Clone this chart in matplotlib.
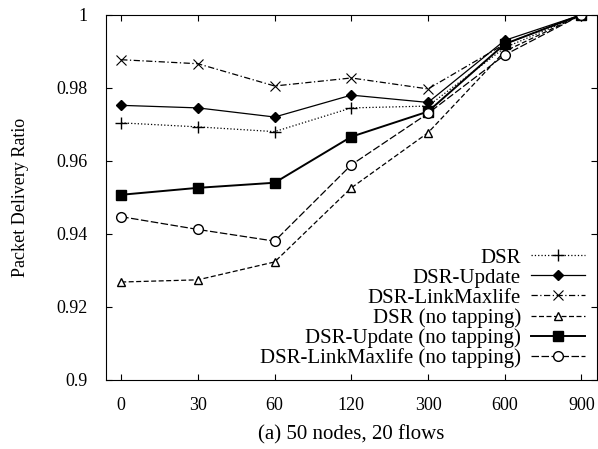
import matplotlib
matplotlib.use('Agg')
import matplotlib.pyplot as plt

plt.rcParams['font.family'] = ['Liberation Serif', 'DejaVu Serif']

# pause times (categorical x axis)
pause = ['0', '30', '60', '120', '300', '600', '900']

dsr = [0.9704, 0.9693, 0.9680, 0.9745, 0.9750, 0.9910, 1.0]
dsr_update = [0.9752, 0.9745, 0.9720, 0.9780, 0.9760, 0.9930, 1.0]
dsr_linkmax = [0.9877, 0.9866, 0.9805, 0.9827, 0.9797, 0.9920, 1.0]
dsr_notap = [0.9268, 0.9274, 0.9323, 0.9526, 0.9677, 0.9900, 1.0]
dsr_update_notap = [0.9507, 0.9526, 0.9540, 0.9666, 0.9735, 0.9920, 1.0]
dsr_linkmax_notap = [0.9447, 0.9412, 0.9380, 0.9589, 0.9730, 0.9890, 1.0]

series = [
    ('DSR', dsr, dict(ls=':', marker='+', ms=9, mew=1.0)),
    ('DSR-Update', dsr_update, dict(ls='-', marker='D', ms=5.5)),
    ('DSR-LinkMaxlife', dsr_linkmax, dict(ls=(0, (5, 2, 1, 2)), marker='x', ms=7, mew=0.8)),
    ('DSR (no tapping)', dsr_notap, dict(ls=(0, (4, 2)), marker='^', ms=6, mfc='white')),
    ('DSR-Update (no tapping)', dsr_update_notap, dict(ls='-', marker='s', ms=7, lw=1.4)),
    ('DSR-LinkMaxlife (no tapping)', dsr_linkmax_notap, dict(ls=(0, (6, 2)), marker='o', ms=7, mfc='white')),
]

fig = plt.figure(figsize=(5.98, 4.49), dpi=100)
ax = fig.add_axes([0.177, 0.154, 0.821, 0.813])

x = list(range(len(pause)))
for label, vals, style in series:
    kw = dict(color='black', lw=0.9)
    kw.update(style)
    ax.plot(x, vals, label=label, **kw)

ax.set_xlim(-0.2, 6.2)
ax.set_ylim(0.9, 1.0)
ax.set_xticks(x)
ax.set_xticklabels(pause)
ax.set_yticks([0.9, 0.92, 0.94, 0.96, 0.98, 1.0])
ax.set_yticklabels(['0.9', '0.92', '0.94', '0.96', '0.98', '1'])
ax.tick_params(direction='in', top=True, right=True, labelsize=13, length=4)
ax.tick_params(axis='x', pad=12)
ax.tick_params(axis='y', pad=13)

ax.set_xlabel('(a) 50 nodes, 20 flows', fontsize=15, labelpad=8)
ax.set_ylabel('Packet Delivery Ratio', fontsize=13, labelpad=20)

ax.legend(loc='lower right', frameon=False, markerfirst=False, fontsize=15,
          handlelength=2.6, labelspacing=0.02, borderaxespad=0.25, handletextpad=0.5,
          borderpad=0.3)

fig.savefig('out.png', dpi=100)
